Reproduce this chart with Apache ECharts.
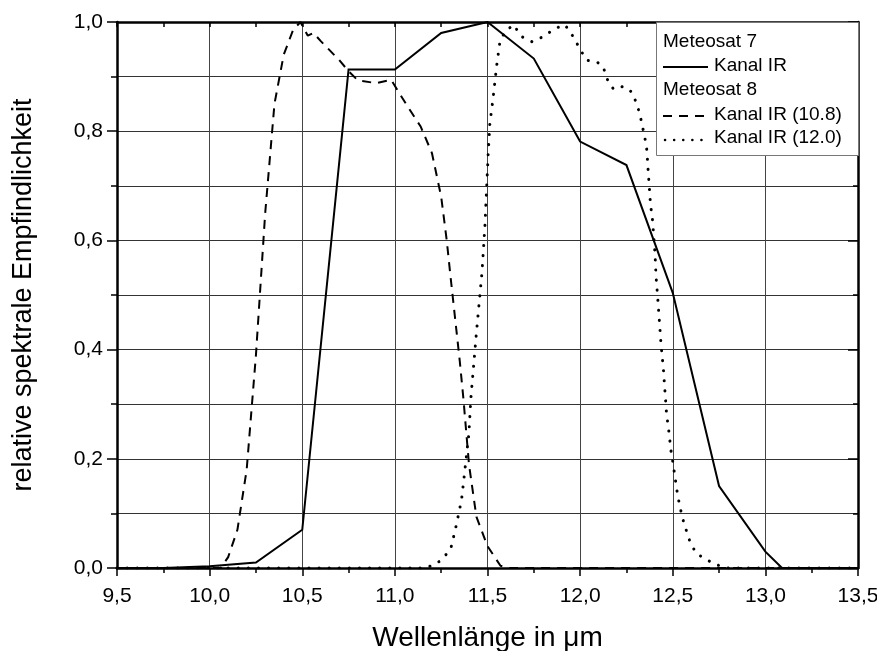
<!DOCTYPE html>
<html><head><meta charset="utf-8">
<script src="https://cdn.jsdelivr.net/npm/echarts@6/dist/echarts.min.js"></script>
<style>html,body{margin:0;padding:0;background:#fff}#c{width:877px;height:651px}</style>
</head><body><div id="c"></div>
<script>
// Meteosat 7, Kanal IR (solid)
const m7IR = [[9.5,0],[9.75,0],[10.0,0.003],[10.25,0.01],[10.5,0.07],[10.75,0.913],[11.0,0.913],[11.25,0.98],[11.5,1.0],[11.75,0.933],[12.0,0.781],[12.25,0.738],[12.5,0.504],[12.75,0.15],[13.0,0.03],[13.09,0],[13.25,0],[13.5,0]];
// Meteosat 8, Kanal IR (10.8) (dashed)
const m8IR108 = [[9.5,0],[10.0,0],[10.06,0],[10.1,0.02],[10.15,0.07],[10.2,0.18],[10.25,0.39],[10.3,0.65],[10.35,0.85],[10.4,0.94],[10.45,0.985],[10.49,1.0],[10.53,0.975],[10.56,0.98],[10.6,0.965],[10.7,0.93],[10.75,0.91],[10.8,0.893],[10.9,0.888],[10.98,0.894],[11.06,0.85],[11.14,0.808],[11.2,0.76],[11.25,0.68],[11.28,0.6],[11.3,0.535],[11.35,0.38],[11.37,0.31],[11.4,0.19],[11.44,0.094],[11.5,0.04],[11.57,0.004],[11.62,0],[12.0,0],[13.5,0]];
// Meteosat 8, Kanal IR (12.0) (dotted)
const m8IR120 = [[9.5,0],[11.15,0],[11.2,0.004],[11.24,0.012],[11.3,0.033],[11.33,0.076],[11.36,0.125],[11.38,0.186],[11.4,0.247],[11.41,0.31],[11.44,0.43],[11.47,0.54],[11.486,0.625],[11.496,0.7],[11.504,0.76],[11.513,0.815],[11.53,0.86],[11.55,0.921],[11.567,0.964],[11.594,0.982],[11.64,0.995],[11.685,0.973],[11.74,0.964],[11.8,0.973],[11.864,0.988],[11.918,0.995],[11.963,0.973],[12.0,0.95],[12.035,0.93],[12.09,0.927],[12.125,0.918],[12.143,0.897],[12.18,0.877],[12.233,0.882],[12.278,0.872],[12.305,0.851],[12.323,0.83],[12.337,0.808],[12.35,0.787],[12.36,0.766],[12.368,0.723],[12.373,0.7],[12.38,0.665],[12.39,0.64],[12.404,0.576],[12.41,0.533],[12.419,0.494],[12.428,0.451],[12.437,0.408],[12.449,0.366],[12.458,0.323],[12.467,0.28],[12.476,0.259],[12.49,0.216],[12.5,0.195],[12.508,0.176],[12.517,0.155],[12.526,0.134],[12.539,0.112],[12.553,0.091],[12.572,0.07],[12.593,0.048],[12.626,0.027],[12.683,0.015],[12.746,0.005],[12.8,0],[13.5,0]];

const xMin = 9.5, xMax = 13.5, xStep = 0.5;
const yMin = 0, yMax = 1, yStep = 0.2;
const seriesNames = ['Kanal IR','Kanal IR (10.8)','Kanal IR (12.0)'];
const legendGroups = ['Meteosat 7','Meteosat 8'];

const FONT = '"Liberation Sans", Arial, sans-serif';
const fmt = v => v.toFixed(1).replace('.', ',');
const chart = echarts.init(document.getElementById('c'), null, {renderer:'canvas'});

const L = 656, T = 22, W = 202, H = 133;
const LF = '19px ' + FONT;
chart.setOption({
  animation:false,
  backgroundColor:'#fff',
  grid:{left:117, right:19, top:22, bottom:83, containLabel:false, outerBoundsMode:'none'},
  xAxis:[{
    type:'value', min:xMin, max:xMax, interval:xStep, position:'bottom',
    name:'Wellenlänge in μm', nameLocation:'middle', nameGap:56,
    nameTextStyle:{fontFamily:FONT, fontSize:28, color:'#000'},
    axisLine:{show:true, onZero:false, lineStyle:{color:'#000', width:2.5}},
    axisTick:{show:true, inside:false, length:8, lineStyle:{color:'#000', width:1.5}},
    minorTick:{show:true, splitNumber:2, length:5, lineStyle:{color:'#000', width:1.5}},
    axisLabel:{formatter:fmt, fontFamily:FONT, fontSize:21, color:'#000', margin:18},
    splitLine:{show:true, lineStyle:{color:'#444', width:1}}
  },{
    type:'value', min:xMin, max:xMax, interval:0.25, position:'top',
    axisLine:{show:true, onZero:false, lineStyle:{color:'#000', width:2.5}},
    axisTick:{show:true, inside:true, length:5, lineStyle:{color:'#000', width:1.5}},
    axisLabel:{show:false}, splitLine:{show:false}
  }],
  yAxis:[{
    type:'value', min:yMin, max:yMax, interval:yStep, position:'left',
    name:'relative spektrale Empfindlichkeit', nameLocation:'middle', nameGap:80,
    nameTextStyle:{fontFamily:FONT, fontSize:27, color:'#000'},
    axisLine:{show:true, onZero:false, lineStyle:{color:'#000', width:2.5}},
    axisTick:{show:true, inside:false, length:10, lineStyle:{color:'#000', width:1.5}},
    minorTick:{show:true, splitNumber:2, length:6, lineStyle:{color:'#000', width:1.5}},
    axisLabel:{formatter:fmt, fontFamily:FONT, fontSize:21, color:'#000', margin:14},
    splitLine:{show:true, lineStyle:{color:'#333', width:1}},
    minorSplitLine:{show:true, lineStyle:{color:'#333', width:1}}
  },{
    type:'value', min:yMin, max:yMax, interval:yStep, position:'right',
    axisLine:{show:true, onZero:false, lineStyle:{color:'#000', width:2.5}},
    axisTick:{show:true, inside:true, length:10, lineStyle:{color:'#000', width:1.5}},
    minorTick:{show:true, splitNumber:2, length:5, lineStyle:{color:'#000', width:1.5}},
    axisLabel:{show:false}, splitLine:{show:false}
  }],
  series:[
    {name:seriesNames[0], type:'line', data:m7IR, showSymbol:false, xAxisIndex:0, yAxisIndex:0,
     lineStyle:{color:'#000', width:2, type:'solid', join:'miter'}, z:5},
    {name:seriesNames[1], type:'line', data:m8IR108, showSymbol:false, xAxisIndex:0, yAxisIndex:0,
     lineStyle:{color:'#000', width:2, type:[9,7]}, z:5},
    {name:seriesNames[2], type:'line', data:m8IR120, showSymbol:false, xAxisIndex:0, yAxisIndex:0,
     lineStyle:{color:'#000', width:3, type:[0.1,10], cap:'round'}, z:5}
  ],
  graphic:[
    {type:'rect', left:L, top:T, z:100, shape:{width:W, height:H}, style:{fill:'#fff', stroke:'#777', lineWidth:1}},
    {type:'text', left:L+7, top:T+10, z:101, style:{text:legendGroups[0], font:LF, fill:'#000'}},
    {type:'line', z:101, shape:{x1:L+7, y1:T+45, x2:L+52, y2:T+45}, style:{stroke:'#000', lineWidth:2}},
    {type:'text', left:L+58, top:T+34, z:101, style:{text:seriesNames[0], font:LF, fill:'#000'}},
    {type:'text', left:L+7, top:T+58, z:101, style:{text:legendGroups[1], font:LF, fill:'#000'}},
    {type:'line', z:101, shape:{x1:L+7, y1:T+94, x2:L+52, y2:T+94}, style:{stroke:'#000', lineWidth:2, lineDash:[9,7]}},
    {type:'text', left:L+58, top:T+83, z:101, style:{text:seriesNames[1], font:LF, fill:'#000'}},
    {type:'line', z:101, shape:{x1:L+9, y1:T+118, x2:L+52, y2:T+118}, style:{stroke:'#000', lineWidth:2.5, lineDash:[0.1,9], lineCap:'round'}},
    {type:'text', left:L+58, top:T+106, z:101, style:{text:seriesNames[2], font:LF, fill:'#000'}}
  ]
});
</script></body></html>
